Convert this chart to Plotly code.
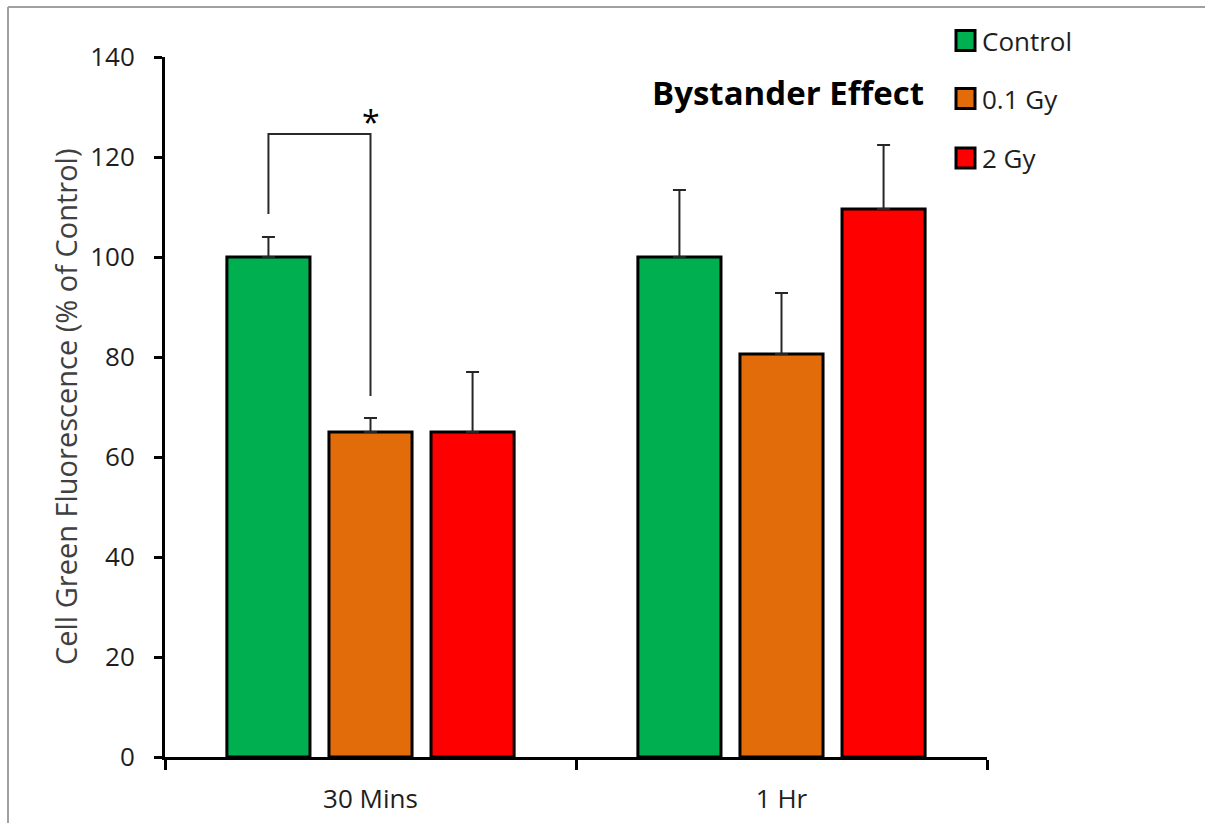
import plotly.graph_objects as go

# ---- data ----
timepoints = ["30 Mins", "1 Hr"]
series_names = ["Control", "0.1 Gy", "2 Gy"]
control_vals = [100.0, 100.0]
gy01_vals = [65.0, 80.6]
gy2_vals = [65.0, 109.6]
control_err = [4.0, 13.4]
gy01_err = [2.8, 12.2]
gy2_err = [12.0, 12.8]
series_colors = ["#00B050", "#E36C0A", "#FF0000"]

# significance bracket: left leg bottom, bracket top, right leg bottom, star level
bracket_levels = [108.6, 124.6, 72.2]
star_level = 127.2
y_ticks = [0, 20, 40, 60, 80, 100, 120, 140]

# ---- layout geometry ----
W, H = 1205, 823
ML, MR, MT, MB = 165, 218, 57, 66
PW, PH = W - ML - MR, H - MT - MB
BARGAP = 0.255
BARGROUPGAP = 0.186


def px_x(p):
    return (p - ML) / PW


def px_y(p):
    return (H - MB - p) / PH


FONT = "Open Sans"
TXT = "#1e1e1e"

values = [control_vals, gy01_vals, gy2_vals]
errors = [control_err, gy01_err, gy2_err]

fig = go.Figure()
for name, vals, errs, col in zip(series_names, values, errors, series_colors):
    fig.add_trace(go.Bar(
        x=timepoints, y=vals, name=name,
        marker=dict(color=col, line=dict(color="black", width=3)),
        error_y=dict(type="data", symmetric=False, array=errs,
                     arrayminus=[0] * len(errs), color="#262626",
                     thickness=2, width=6.5),
        showlegend=False,
    ))

# bar centres within a group (category index units)
slot = (1 - BARGAP) / len(series_names)
x_ctrl_30 = 0 - slot
x_gy01_30 = 0

shapes = []
# significance bracket
shapes.append(dict(type="path", xref="x", yref="y",
                   path=(f"M {x_ctrl_30},{bracket_levels[0]} L {x_ctrl_30},{bracket_levels[1]} "
                         f"L {x_gy01_30},{bracket_levels[1]} L {x_gy01_30},{bracket_levels[2]}"),
                   line=dict(color="#2a2a2a", width=2)))

# outer frame (top and left edges)
shapes.append(dict(type="line", xref="paper", yref="paper",
                   x0=px_x(8), x1=px_x(1210), y0=px_y(7), y1=px_y(7),
                   line=dict(color="#a0a0a0", width=2)))
shapes.append(dict(type="line", xref="paper", yref="paper",
                   x0=px_x(8), x1=px_x(8), y0=px_y(7), y1=px_y(830),
                   line=dict(color="#a0a0a0", width=2)))

annotations = []
# legend drawn as boxes + labels
legend_y = [40.5, 98.5, 158.0]
for name, col, ly in zip(series_names, series_colors, legend_y):
    shapes.append(dict(type="rect", xref="paper", yref="paper",
                       x0=px_x(956), x1=px_x(975), y0=px_y(ly - 10), y1=px_y(ly + 10),
                       fillcolor=col, line=dict(color="black", width=3)))
    annotations.append(dict(xref="paper", yref="paper", x=px_x(980), y=px_y(ly),
                            xanchor="left", yanchor="middle", showarrow=False,
                            text=name, font=dict(family=FONT, size=26, color=TXT)))

# chart title
annotations.append(dict(xref="paper", yref="paper", x=px_x(926), y=px_y(93),
                        xanchor="right", yanchor="middle", showarrow=False,
                        text="<b>Bystander Effect</b>",
                        font=dict(family=FONT, size=33, color="black")))

# significance star
annotations.append(dict(xref="x", yref="y", x=x_gy01_30, y=star_level,
                        xanchor="center", yanchor="middle", showarrow=False,
                        text="*", font=dict(family=FONT, size=32, color="black")))

# y-axis title
annotations.append(dict(xref="paper", yref="paper", x=px_x(65), y=px_y(407),
                        xanchor="center", yanchor="middle", showarrow=False,
                        textangle=-90,
                        text="Cell Green Fluorescence (% of Control)",
                        font=dict(family=FONT, size=29, color="#404040")))

fig.update_layout(
    width=W, height=H,
    margin=dict(l=ML, r=MR, t=MT, b=MB, pad=0, autoexpand=False),
    paper_bgcolor="white", plot_bgcolor="white",
    barmode="group", bargap=BARGAP, bargroupgap=BARGROUPGAP,
    font=dict(family=FONT, size=26, color=TXT),
    shapes=shapes, annotations=annotations,
    xaxis=dict(
        type="category", range=[-0.5, len(timepoints) - 0.5],
        showline=True, linecolor="black", linewidth=3,
        ticks="outside", tickson="boundaries", ticklen=10, tickwidth=3,
        tickcolor="black", showgrid=False, zeroline=False,
        tickfont=dict(family=FONT, size=26, color=TXT),
        ticklabelstandoff=17, automargin=False,
    ),
    yaxis=dict(
        range=[0, 140], tickvals=y_ticks,
        showline=True, linecolor="black", linewidth=3,
        ticks="outside", ticklen=8, tickwidth=3, tickcolor="black",
        showgrid=False, zeroline=False,
        tickfont=dict(family=FONT, size=26, color=TXT),
        ticklabelstandoff=14, automargin=False,
    ),
)

fig.write_html("out.html")
